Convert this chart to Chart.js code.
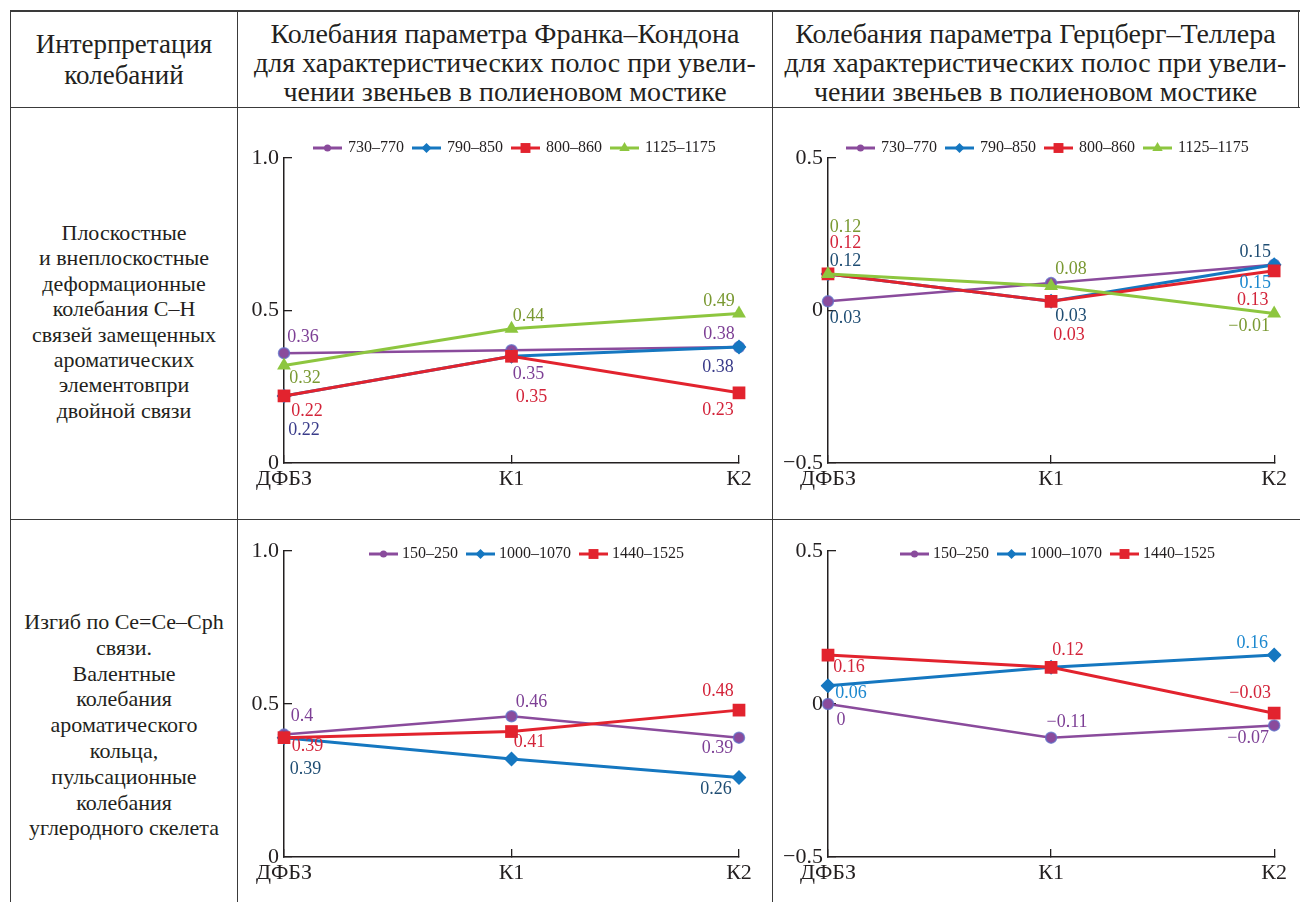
<!DOCTYPE html>
<html>
<head>
<meta charset="utf-8">
<script src="https://cdn.jsdelivr.net/npm/chart.js@4/dist/chart.umd.min.js"></script>
<style>
  html, body { margin: 0; padding: 0; background: #fff; }
  body { width: 1301px; height: 902px; position: relative; overflow: hidden;
         font-family: "Liberation Serif", Tinos, "Times New Roman", "DejaVu Serif", serif; color: #231f20; }
  .rule { position: absolute; background: #3a3a3a; }
  .cell-text { position: absolute; text-align: center; white-space: nowrap; }
  .plot { position: absolute; }
</style>
</head>
<body>

<!-- table grid -->
<div class="rule" style="left:10px;top:10px;width:1290px;height:1.6px;"></div>
<div class="rule" style="left:10px;top:107px;width:1290px;height:1.2px;"></div>
<div class="rule" style="left:10px;top:519px;width:1290px;height:1.2px;"></div>
<div class="rule" style="left:10px;top:10px;width:1.4px;height:892px;"></div>
<div class="rule" style="left:237px;top:10px;width:1.2px;height:892px;"></div>
<div class="rule" style="left:772px;top:10px;width:1.2px;height:892px;"></div>
<div class="rule" style="left:1298px;top:10px;width:1.4px;height:98px;"></div>

<!-- header row -->
<div class="cell-text" style="left:11px;width:226px;top:29px;font-size:27px;line-height:31px;">Интерпретация<br>колебаний</div>
<div class="cell-text" style="left:238px;width:534px;top:19px;font-size:28px;line-height:29px;">Колебания параметра Франка–Кондона<br>для характеристических полос при увели-<br>чении звеньев в полиеновом мостике</div>
<div class="cell-text" style="left:773px;width:525px;top:19px;font-size:28px;line-height:29px;">Колебания параметра Герцберг–Теллера<br>для характеристических полос при увели-<br>чении звеньев в полиеновом мостике</div>

<!-- row captions -->
<div class="cell-text" style="left:11px;width:226px;top:220px;font-size:22px;line-height:25.4px;">Плоскостные<br>и внеплоскостные<br>деформационные<br>колебания С–Н<br>связей замещенных<br>ароматических<br>элементовпри<br>двойной связи</div>
<div class="cell-text" style="left:11px;width:226px;top:609px;font-size:22px;line-height:25.8px;">Изгиб по Ce=Ce–Cph<br>связи.<br>Валентные<br>колебания<br>ароматического<br>кольца,<br>пульсационные<br>колебания<br>углеродного скелета</div>

<canvas id="fcCH" class="plot" width="533" height="410" style="left:239px;top:109px;"></canvas>
<canvas id="htCH" class="plot" width="524" height="410" style="left:774px;top:109px;"></canvas>
<canvas id="fcRing" class="plot" width="533" height="381" style="left:239px;top:521px;"></canvas>
<canvas id="htRing" class="plot" width="524" height="381" style="left:774px;top:521px;"></canvas>

<script>
// Samples along the polyene bridge
const categories = ['ДФБЗ', 'К1', 'К2'];

// C–H deformation bands, cm⁻¹
const chBands = ['730–770', '790–850', '800–860', '1125–1175'];
// Franck–Condon parameter
const fcCH_730_770   = [0.36, 0.37, 0.38];
const fcCH_790_850   = [0.22, 0.35, 0.38];
const fcCH_800_860   = [0.22, 0.35, 0.23];
const fcCH_1125_1175 = [0.32, 0.44, 0.49];
// Herzberg–Teller parameter
const htCH_730_770   = [0.03, 0.09, 0.15];
const htCH_790_850   = [0.12, 0.03, 0.15];
const htCH_800_860   = [0.12, 0.03, 0.13];
const htCH_1125_1175 = [0.12, 0.08, -0.01];

// ring / skeleton bands, cm⁻¹
const ringBands = ['150–250', '1000–1070', '1440–1525'];
const fcRing_150_250   = [0.4, 0.46, 0.39];
const fcRing_1000_1070 = [0.39, 0.32, 0.26];
const fcRing_1440_1525 = [0.39, 0.41, 0.48];
const htRing_150_250   = [0, -0.11, -0.07];
const htRing_1000_1070 = [0.06, 0.12, 0.16];
const htRing_1440_1525 = [0.16, 0.12, -0.03];

// y-axis tick values
const fcTicks = [0, 0.5, 1.0];
const htTicks = [-0.5, 0, 0.5];

// ---- styling ----
const FONT = '"Liberation Serif", Tinos, "Times New Roman", "DejaVu Serif", serif';
const INK = '#231f20';
const seriesLook = [
  { color: '#8a4b9c', rim: 'rgba(96,112,200,0.75)', pointStyle: 'circle', radius: 5.5, rimWidth: 1.5, legendRadius: 3.5, width: 2.5 },
  { color: '#1577c0', rim: '#1577c0', pointStyle: 'rectRot',  radius: 7.5, rimWidth: 0, legendRadius: 5, width: 3 },
  { color: '#e2232e', rim: '#e2232e', pointStyle: 'rect',     radius: 9,   rimWidth: 0, legendRadius: 7, width: 3 },
  { color: '#8dc63f', rim: '#8dc63f', pointStyle: 'triangle', radius: 8,   rimWidth: 0, legendRadius: 6, width: 3 }
];
const C = { P: '#7d3f95', I: '#3a3c8a', N: '#1f4d73', R: '#d3243a', G: '#7a9932', B: '#1c88cf' };

function fmtValue(v) {
  if (v === 0) return '0';
  return (v < 0 ? '−' : '') + String(Math.abs(v));
}
function fmtTick(v) {
  if (v === 0) return '0';
  return (v < 0 ? '−' : '') + Math.abs(v).toFixed(1);
}

// value captions next to points: [dataset, point, dx, dy, colour]
const valueLabels = {
  id: 'valueLabels',
  afterDatasetsDraw(chart, args, opts) {
    const ctx = chart.ctx;
    ctx.save();
    ctx.font = opts.font;
    ctx.textAlign = 'center';
    ctx.textBaseline = 'middle';
    (opts.items || []).forEach(([ds, i, dx, dy, color]) => {
      const el = chart.getDatasetMeta(ds).data[i];
      const v = chart.data.datasets[ds].data[i];
      ctx.fillStyle = color;
      ctx.fillText(fmtValue(v), el.x + dx, el.y + dy);
    });
    ctx.restore();
  }
};

// one-row legend with a line sample and marker for each series
const lineLegend = {
  id: 'lineLegend',
  afterDraw(chart, args, opts) {
    const { ctx, chartArea } = chart;
    let x = chartArea.left + opts.dx;
    const y = chartArea.top + opts.dy;
    ctx.save();
    ctx.font = opts.font;
    ctx.textAlign = 'left';
    ctx.textBaseline = 'middle';
    chart.data.datasets.forEach((ds, k) => {
      const look = seriesLook[k];
      ctx.strokeStyle = ds.borderColor;
      ctx.lineWidth = 3;
      ctx.beginPath();
      ctx.moveTo(x, y);
      ctx.lineTo(x + opts.lineLen, y);
      ctx.stroke();
      ctx.fillStyle = ds.pointBackgroundColor;
      Chart.helpers.drawPoint(ctx, { pointStyle: ds.pointStyle, radius: look.legendRadius, borderWidth: 0, rotation: 0 },
        x + opts.lineLen / 2, y);
      x += opts.lineLen + opts.gap;
      ctx.fillStyle = INK;
      ctx.fillText(ds.label, x, y);
      x += ctx.measureText(ds.label).width + opts.spacing;
    });
    ctx.restore();
  }
};

function makePlot(id, names, series, ticks, box, legendPos, labelItems) {
  const datasets = series.map((data, k) => {
    const look = seriesLook[k];
    return {
      label: names[k],
      data: data,
      borderColor: look.color,
      backgroundColor: look.color,
      pointBackgroundColor: look.color,
      pointBorderColor: look.rim,
      pointBorderWidth: look.rimWidth,
      pointStyle: look.pointStyle,
      pointRadius: look.radius,
      borderWidth: look.width,
      tension: 0,
      order: -k
    };
  });
  return new Chart(document.getElementById(id), {
    type: 'line',
    data: { labels: categories, datasets },
    plugins: [valueLabels, lineLegend],
    options: {
      responsive: false,
      animation: false,
      events: [],
      layout: { padding: { top: box.top, right: box.right, left: 0, bottom: 0 } },
      scales: {
        x: {
          type: 'category',
          offset: false,
          afterFit: s => { s.height = box.xh; },
          border: { display: true, color: INK, width: 1.5 },
          grid: { display: true, drawOnChartArea: false, drawTicks: true, tickLength: -8, color: INK, lineWidth: 1.3 },
          ticks: { color: INK, font: { family: FONT, size: 22 }, padding: 11, maxRotation: 0, autoSkip: false }
        },
        y: {
          min: ticks[0],
          max: ticks[ticks.length - 1],
          afterFit: s => { s.width = box.yw; },
          afterBuildTicks: s => { s.ticks = ticks.map(v => ({ value: v })); },
          border: { display: true, color: INK, width: 1.5 },
          grid: { display: true, drawOnChartArea: false, drawTicks: true, tickLength: -8, color: INK, lineWidth: 1.3 },
          ticks: { color: INK, font: { family: FONT, size: 22 }, padding: 13, callback: v => fmtTick(v) }
        }
      },
      plugins: {
        legend: { display: false },
        tooltip: { enabled: false },
        valueLabels: { font: '18px ' + FONT, items: labelItems },
        lineLegend: Object.assign({ font: '16px ' + FONT, lineLen: 29, gap: 6, spacing: 8 }, legendPos)
      }
    }
  });
}

makePlot('fcCH', chBands, [fcCH_730_770, fcCH_790_850, fcCH_800_860, fcCH_1125_1175], fcTicks,
  { top: 49, right: 33, yw: 45, xh: 56 }, { dx: 29, dy: -10 },
  [[0,0,19,-16,C.P],[3,0,21,13,C.G],[2,0,23,15,C.R],[1,0,20,34,C.I],
   [3,1,17,-13,C.G],[1,1,17,18,C.P],[2,1,20,41,C.R],
   [3,2,-20,-12,C.G],[0,2,-20,-13,C.P],[1,2,-21,20,C.I],[2,2,-21,17,C.R]]);

makePlot('htCH', chBands, [htCH_730_770, htCH_790_850, htCH_800_860, htCH_1125_1175], htTicks,
  { top: 49, right: 21, yw: 54, xh: 56 }, { dx: 18, dy: -10 },
  [[3,0,17.5,-47,C.G],[2,0,17.5,-31,C.R],[1,0,17.5,-13,C.N],[0,0,17.5,17,C.N],
   [3,1,20,-17,C.G],[1,1,20,15,C.N],[2,1,18,34,C.R],
   [0,2,-19,-12,C.N],[1,2,-19,19,C.B],[2,2,-21.5,29,C.R],[3,2,-25,13,C.G]]);

makePlot('fcRing', ringBands, [fcRing_150_250, fcRing_1000_1070, fcRing_1440_1525], fcTicks,
  { top: 30, right: 33, yw: 45, xh: 45 }, { dx: 85, dy: 3, gap: 4 },
  [[0,0,18,-18,C.P],[2,0,23.5,9,C.R],[1,0,21.5,32,C.N],
   [0,1,20,-13.5,C.P],[2,1,18,11,C.R],
   [2,2,-21,-19,C.R],[0,2,-21.5,11,C.P],[1,2,-23,12,C.N]]);

makePlot('htRing', ringBands, [htRing_150_250, htRing_1000_1070, htRing_1440_1525], htTicks,
  { top: 30, right: 21, yw: 54, xh: 45 }, { dx: 72, dy: 3, gap: 4 },
  [[2,0,21,12,C.R],[1,0,23,8,C.B],[0,0,13,16,C.P],
   [2,1,17,-17,C.R],[0,1,16,-15,C.P],
   [1,2,-22,-12,C.B],[2,2,-24,-20,C.R],[0,2,-26,13,C.P]]);
</script>
</body>
</html>
